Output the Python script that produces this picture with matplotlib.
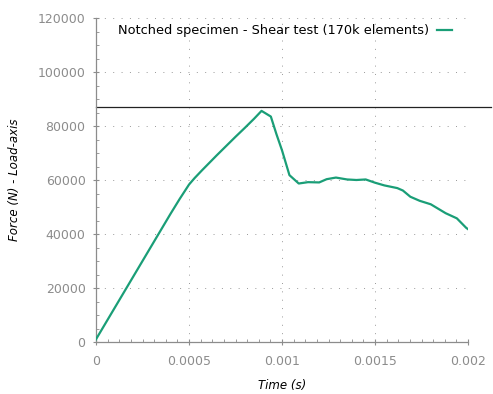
"""
Force vs time curve of the notched specimen shear test (gnuplot look-alike).
"""

import numpy as np
import matplotlib
matplotlib.use('Agg')
from matplotlib import pyplot as plt
from matplotlib.ticker import MultipleLocator, FixedLocator

# values
time_s = [0, 0.00005, 0.0001, 0.00015, 0.0002, 0.00025, 0.0003, 0.00035, 0.0004,
          0.00045, 0.0005, 0.00053, 0.00057, 0.0006, 0.00065, 0.0007, 0.00075, 0.0008,
          0.00085, 0.00089, 0.00094, 0.00097, 0.001, 0.00104, 0.00109, 0.00114,
          0.0012, 0.00124, 0.00129, 0.00135, 0.0014, 0.00145, 0.0015, 0.00155,
          0.00162, 0.00165, 0.00169, 0.00174, 0.0018, 0.00188, 0.00194, 0.00199,
          0.002]
force_n = [1000, 6800, 12600, 18400, 24200, 30000, 35800, 41600, 47400,
           53000, 58300, 60700, 63600, 65700, 69200, 72600, 76000, 79300,
           82700, 85600, 83500, 77000, 71000, 61800, 58700, 59200,
           59100, 60300, 60900, 60200, 60000, 60200, 59000, 58000,
           57000, 56100, 53800, 52300, 51000, 47700, 45800, 42300,
           41800]
max_force = 87000

x_ticks = [0, 0.0005, 0.001, 0.0015, 0.002]
x_tick_labels = ['0', '0.0005', '0.001', '0.0015', '0.002']
y_ticks = [0, 20000, 40000, 60000, 80000, 100000, 120000]

label = 'Notched specimen - Shear test (170k elements)'
green = '#1a9e77'
grey = '#8c8c8c'


def main():
    fig = plt.figure(figsize=(4.93, 3.94), dpi=100)
    ax = fig.add_axes([96 / 493, 1 - 342 / 394, 372 / 493, 324 / 394])

    ax.plot(time_s, force_n, color=green, lw=1.6, label=label, zorder=3)

    # horizontal reference line, runs past the right end of the axes
    ax.plot([0, 1.062], [max_force, max_force], color='#222222', lw=0.9,
            transform=ax.get_yaxis_transform(), clip_on=False, zorder=2)

    ax.set_xlim(0, 0.002)
    ax.set_ylim(0, 120000)
    ax.xaxis.set_major_locator(FixedLocator(x_ticks))
    ax.set_xticklabels(x_tick_labels)
    ax.yaxis.set_major_locator(FixedLocator(y_ticks))
    ax.xaxis.set_minor_locator(MultipleLocator(0.0000625))
    ax.yaxis.set_minor_locator(MultipleLocator(5000))

    for side in ['top', 'right']:
        ax.spines[side].set_visible(False)
    for side in ['left', 'bottom']:
        ax.spines[side].set_color(grey)
        ax.spines[side].set_linewidth(0.9)

    ax.tick_params(which='major', direction='inout', length=5, width=0.8,
                   color=grey, labelcolor=grey, labelsize=9)
    ax.tick_params(which='minor', direction='in', length=2.5, width=0.6, color=grey)
    ax.tick_params(axis='x', pad=7)
    ax.tick_params(axis='y', pad=5)

    ax.grid(True, which='major', color='#999999', lw=0.7, linestyle=(0, (1, 7.6)))

    ax.set_xlabel('Time (s)', style='italic', fontsize=8.5, labelpad=8)
    ax.set_ylabel('Force (N) - Load-axis', style='italic', fontsize=8.5, labelpad=12)

    ax.legend(loc='center right', bbox_to_anchor=(0.957, 0.96), frameon=False,
              markerfirst=False, fontsize=9.3, handlelength=1.2, handletextpad=0.6,
              borderpad=0, borderaxespad=0)

    fig.savefig('out.png', dpi=100)


if __name__ == '__main__':
    main()
